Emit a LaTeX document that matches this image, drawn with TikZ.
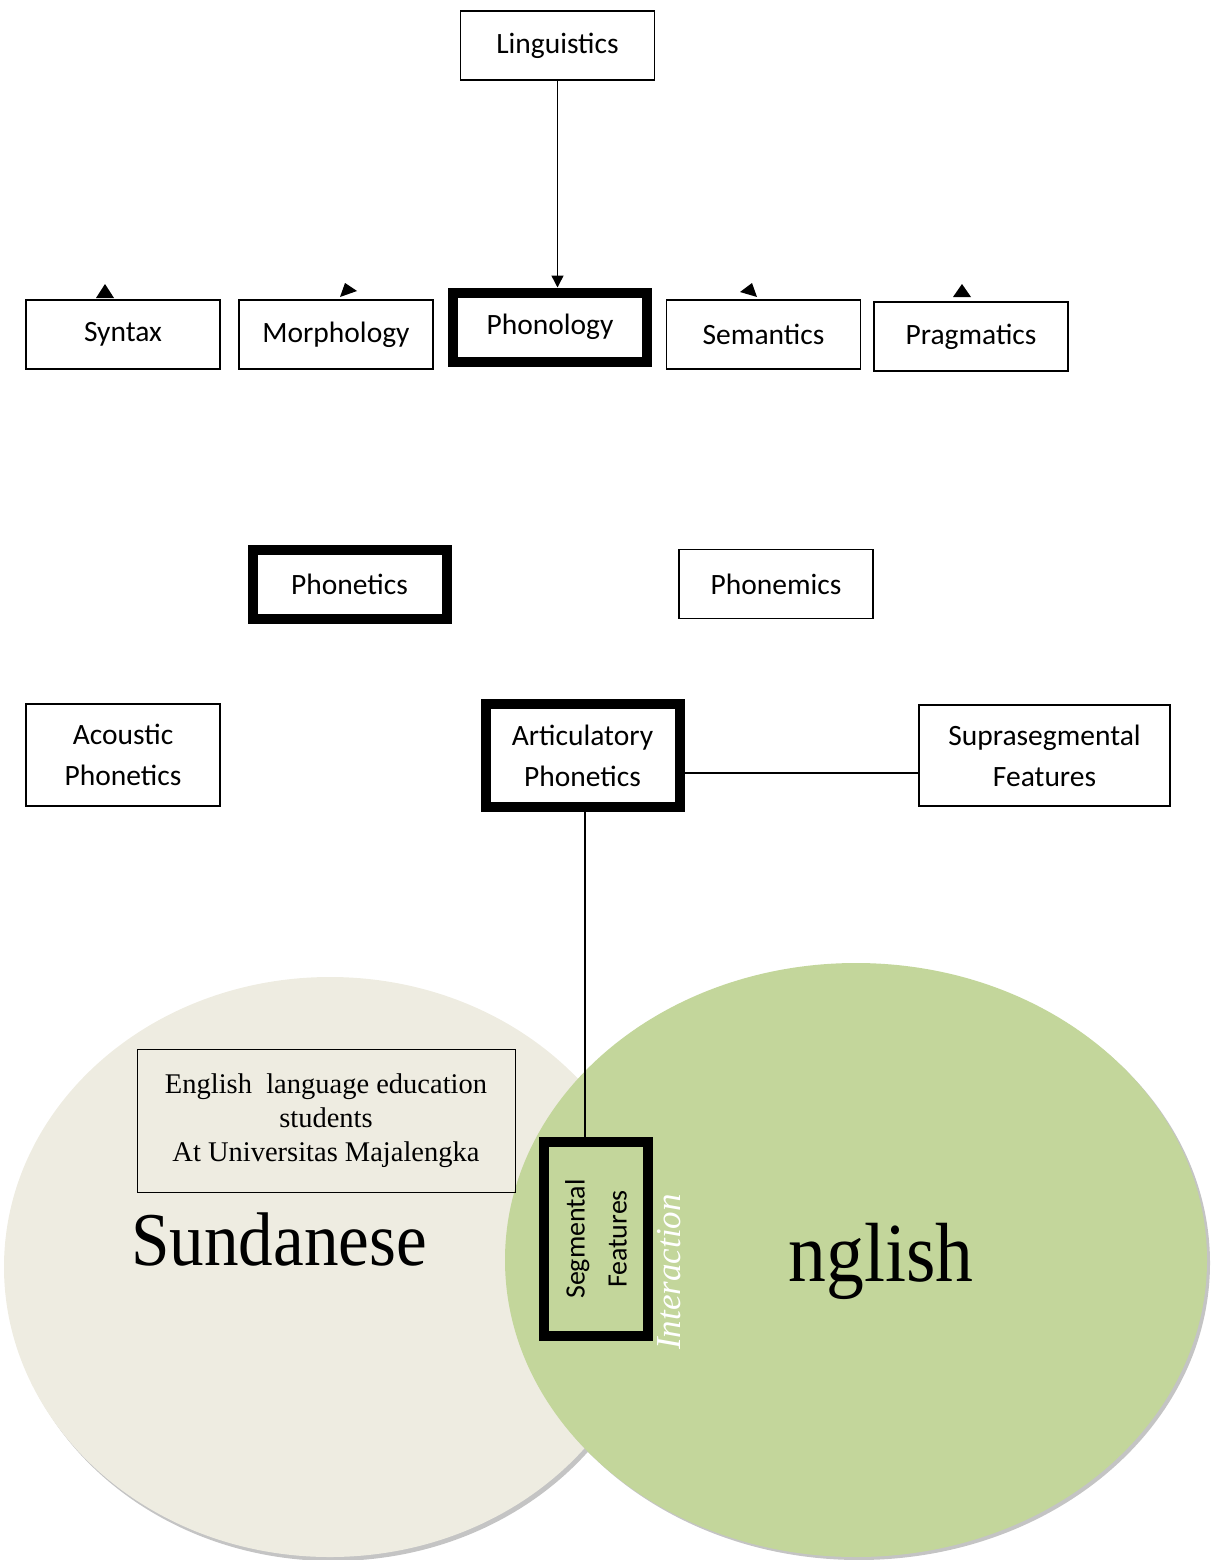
\documentclass[tikz,border=0pt]{standalone}
\usepackage{fontspec}
\setmainfont{Liberation Serif}
\newfontfamily\cali{Carlito}
\usetikzlibrary{arrows.meta,positioning}
\definecolor{beige}{HTML}{EEECE1}
\definecolor{oliva}{HTML}{C3D69B}
\definecolor{sombra}{HTML}{C4C4C4}
\tikzset{
  caja/.style={draw,line width=1.3pt,minimum width=194pt,minimum height=69pt,
    align=center,inner sep=0pt,font=\cali\fontsize{29.5}{41}\selectfont},
  gruesa/.style={caja,line width=10pt},
  linea/.style={line width=1.5pt},
}

\begin{document}
\begin{tikzpicture}[x=1pt,y=-1pt]
        \useasboundingbox (0,0) rectangle (1212,1560);
        % venn
        \fill[sombra] (333,1271) ellipse [x radius=326pt, y radius=290pt];
        \fill[beige] (330,1267) ellipse [x radius=326pt, y radius=290pt];
        \fill[sombra] (859,1263) ellipse [x radius=351pt, y radius=297pt];
        \fill[oliva] (856,1260) ellipse [x radius=351pt, y radius=297pt];
        % cajas
        \node[caja] (ling) at (557.5,45.5) {Linguistics};
        \foreach \n/\x/\y/\t in {syn/123/334.5/Syntax, mor/336/334.5/Morphology, sem/763.5/334.5/Semantics,
            prag/971/336.5/Pragmatics, fonem/776/584/Phonemics}
          \node[caja] (\n) at (\x,\y) {\t};
        \node[gruesa] (fono) at (550,327) {Phonology};
        \node[gruesa] (fonet) at (349.5,584) {Phonetics};
        \node[caja,minimum height=102pt] (acus) at (123,755) {Acoustic\\Phonetics};
        \node[gruesa,minimum height=103pt] (artic) at (582.5,755.5) {Articulatory\\Phonetics};
        \node[caja,minimum width=251pt,minimum height=101pt] (supra) at (1044.5,755.5) {Suprasegmental\\Features};
        \node[gruesa,fill=oliva,rotate=90,minimum height=104pt,font=\cali\fontsize{28}{42}\selectfont] (segm) at (596,1239) {Segmental\\Features};
        % puntas sueltas
        \fill (96,298) -- (105,284) -- (114,298) -- cycle;
        \fill (345,283) -- (357,291) -- (340,297) -- cycle;
        \fill (752,283) -- (740,292) -- (757,297) -- cycle;
        \fill (953,297) -- (962,284) -- (971,297) -- cycle;
        % conectores
        \draw[linea,-{Triangle[width=12pt,length=12pt]}] (ling.south) -- (ling.south |- fono.north);
        \draw[linea] ([yshift=-17.5pt]artic.east) -- ([yshift=-17.5pt]supra.west);
        \draw[linea] ([xshift=2.5pt]artic.south) -- ([xshift=2.5pt]artic.south |- segm.east);
        % textos
        \node[draw,line width=1pt,minimum width=378pt,minimum height=143pt,align=center,
          font=\fontsize{28.5}{34}\selectfont] (estud) at (326,1120.5)
          {English\ \ language education\\students\\At Universitas Majalengka};
        \node[font=\fontsize{76}{80}\selectfont] (sund) at (279,1239) {\scalebox{0.91}[1]{Sundanese}};
        \node[font=\fontsize{84}{88}\selectfont] (ingl) at (881,1261) {\scalebox{0.9}[1]{nglish}};
        \node[white,rotate=90,font=\itshape\fontsize{35}{37}\selectfont] (inter) at (669,1272) {Interaction};
      \end{tikzpicture}
\end{document}
